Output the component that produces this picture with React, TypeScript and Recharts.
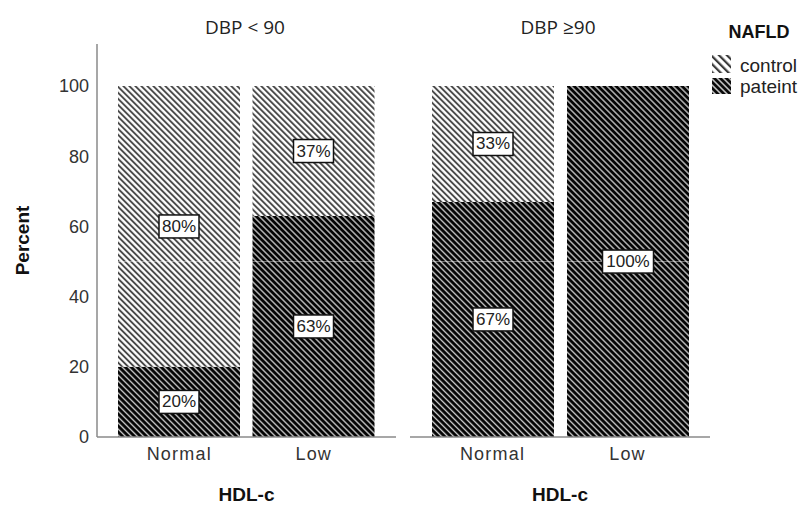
import React from 'react';
import { BarChart, Bar, XAxis, YAxis, LabelList, Label, ReferenceLine } from 'recharts';

const categories = ['Normal', 'Low'];
const lowDbpPatient = [20, 63];
const lowDbpControl = [80, 37];
const highDbpPatient = [67, 100];
const highDbpControl = [33, 0];
const yTicks = [0, 20, 40, 60, 80, 100];
const panelTitles = ['DBP < 90', 'DBP \u226590'];
const legendTitle = 'NAFLD';
const legendItems = ['control', 'pateint'];

const leftData = categories.map((c, i) => ({ cat: c, patient: lowDbpPatient[i], control: lowDbpControl[i] }));
const rightData = categories.map((c, i) => ({ cat: c, patient: highDbpPatient[i], control: highDbpControl[i] }));

const SANS = '"Liberation Sans", Arial, sans-serif';

const Patterns = ({ p }: { p: string }) => (
  <defs>
    <pattern id={`${p}-ctrl`} width="4.24" height="4.24" patternUnits="userSpaceOnUse" patternTransform="rotate(-45)">
      <rect width="4.24" height="4.24" fill="#ffffff" />
      <rect width="1.9" height="4.24" fill="#454545" />
    </pattern>
    <pattern id={`${p}-pat`} width="4.24" height="4.24" patternUnits="userSpaceOnUse" patternTransform="rotate(-45)">
      <rect width="4.24" height="4.24" fill="#050505" />
      <rect width="1.3" height="4.24" fill="#cfcfcf" />
    </pattern>
  </defs>
);

const renderLabel = (props: any) => {
  const { x, y, width, height, value } = props;
  if (!value) return null;
  const text = `${value}%`;
  const w = text.length * 11 + 7;
  const h = 23;
  const cx = Number(x) + Number(width) / 2;
  const cy = Number(y) + Number(height) / 2;
  return (
    <g>
      <rect x={cx - w / 2} y={cy - h / 2} width={w} height={h} fill="#fff" stroke="#111" strokeWidth={1.5} />
      <text x={cx} y={cy + 1} textAnchor="middle" dominantBaseline="middle" fontFamily={SANS} fontSize={17} fill="#222">
        {text}
      </text>
    </g>
  );
};

const Panel = ({ data, id, showY }: { data: any[]; id: string; showY: boolean }) => (
  <BarChart
    width={showY ? 396 : 310}
    height={506}
    data={data}
    margin={{ top: 44, right: 0, bottom: 0, left: showY ? 0 : 10 }}
    barSize={122}
  >
    <Patterns p={id} />
    <XAxis
      dataKey="cat"
      height={69}
      padding={{ left: 15, right: 15 }}
      axisLine={{ stroke: '#8a8a8a', strokeWidth: 1.5 }}
      tickLine={false}
      tickMargin={4}
      tick={{ fontFamily: SANS, fontSize: 18, fill: '#333', letterSpacing: 1.2 }}
    >
      <Label value="HDL-c" position="insideBottom" offset={5} style={{ fontFamily: SANS, fontSize: 19, fontWeight: 'bold', fill: '#111' }} />
    </XAxis>
    <YAxis
      domain={[0, 112]}
      ticks={yTicks}
      width={showY ? 97 : 0}
      tick={showY ? { fontFamily: SANS, fontSize: 18, fill: '#333' } : false}
      tickLine={false}
      axisLine={{ stroke: '#8a8a8a', strokeWidth: 1.5 }}
      allowDataOverflow
    >
      {showY && (
        <Label value="Percent" angle={-90} position="insideLeft" offset={22} style={{ fontFamily: SANS, fontSize: 19, fontWeight: 'bold', fill: '#111', textAnchor: 'middle' }} />
      )}
    </YAxis>
    <Bar dataKey="patient" stackId="a" fill={`url(#${id}-pat)`} isAnimationActive={false}>
      <LabelList dataKey="patient" content={renderLabel} />
    </Bar>
    <Bar dataKey="control" stackId="a" fill={`url(#${id}-ctrl)`} isAnimationActive={false}>
      <LabelList dataKey="control" content={renderLabel} />
    </Bar>
    <ReferenceLine y={50} stroke="#ffffff" strokeOpacity={0.45} strokeWidth={1} />
  </BarChart>
);

export default function App() {
  return (
    <div style={{ position: 'absolute', left: 0, top: 0, width: 806, height: 506, background: '#fff', overflow: 'hidden' }}>
      <div style={{ position: 'absolute', left: 0, top: 0 }}>
        <Panel data={leftData} id="l" showY />
      </div>
      <div style={{ position: 'absolute', left: 400, top: 0 }}>
        <Panel data={rightData} id="r" showY={false} />
      </div>
      <div style={{ position: 'absolute', left: 145, top: 14, width: 200, textAlign: 'center', fontFamily: '"Open Sans", sans-serif', fontSize: 19, color: '#222', lineHeight: '26px' }}>
        {panelTitles[0]}
      </div>
      <div style={{ position: 'absolute', left: 458, top: 14, width: 200, textAlign: 'center', fontFamily: '"Open Sans", sans-serif', fontSize: 19, color: '#222', lineHeight: '26px' }}>
        {panelTitles[1]}
      </div>
      <svg style={{ position: 'absolute', left: 700, top: 14 }} width={106} height={90}>
        <defs>
          <pattern id="lg-ctrl" width="5.6" height="5.6" patternUnits="userSpaceOnUse" patternTransform="rotate(-45)">
            <rect width="5.6" height="5.6" fill="#ffffff" />
            <rect width="2.2" height="5.6" fill="#3c3c3c" />
          </pattern>
          <pattern id="lg-pat" width="4.24" height="4.24" patternUnits="userSpaceOnUse" patternTransform="rotate(-45)">
            <rect width="4.24" height="4.24" fill="#0a0a0a" />
            <rect width="1.4" height="4.24" fill="#d8d8d8" />
          </pattern>
        </defs>
        <text x={59} y={24} textAnchor="middle" fontFamily={SANS} fontSize={18} fontWeight="bold" fill="#111">{legendTitle}</text>
        <rect x={12} y={41} width={19} height={18} fill="url(#lg-ctrl)" />
        <text x={40} y={58} fontFamily={SANS} fontSize={19} fill="#222">{legendItems[0]}</text>
        <rect x={12} y={64} width={19} height={16} fill="url(#lg-pat)" />
        <text x={40} y={79} fontFamily={SANS} fontSize={19} fill="#222">{legendItems[1]}</text>
      </svg>
    </div>
  );
}
